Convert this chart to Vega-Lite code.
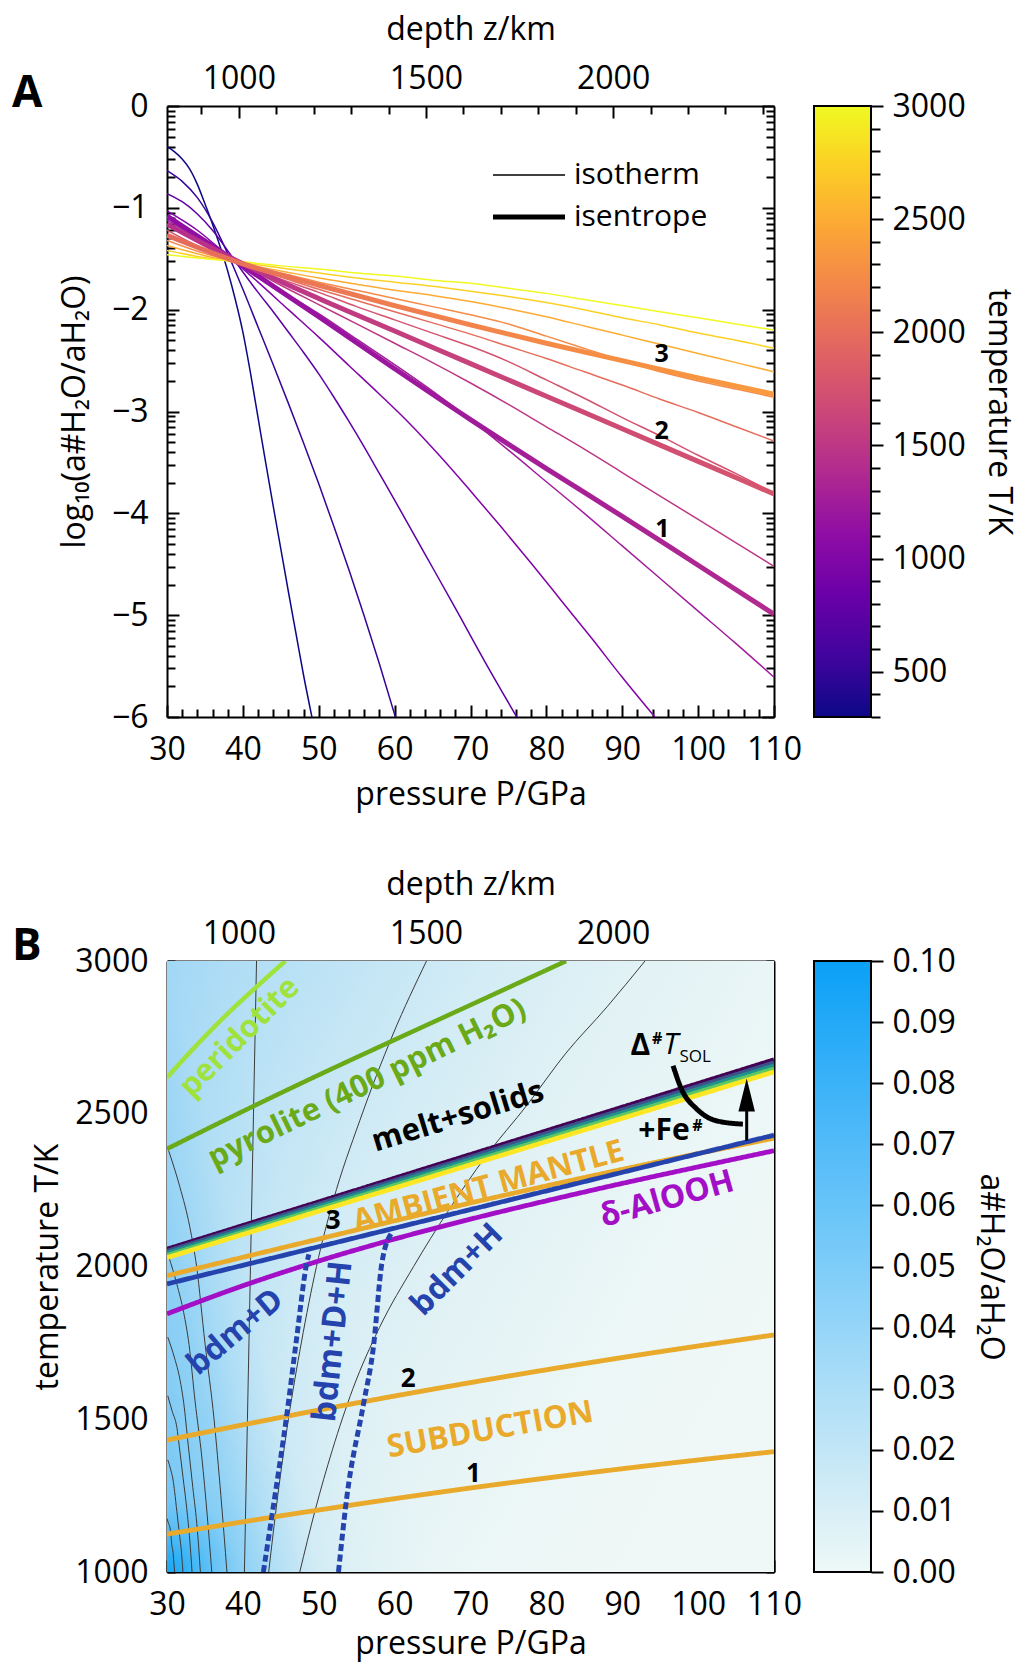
{
  "$schema": "https://vega.github.io/schema/vega-lite/v6.json",
  "padding": {"left": 12, "top": 13, "right": 10, "bottom": 6},
  "background": "white",
  "bounds": "flush",
  "columns": 2,
  "spacing": {"row": 244, "column": 40},
  "config": {
    "font": "Open Sans",
    "view": {"stroke": null},
    "axis": {
      "grid": false, "domain": false,
      "labelFont": "Open Sans", "labelFontSize": 32, "labelColor": "black",
      "titleFont": "Open Sans", "titleFontSize": 32, "titleFontWeight": "normal", "titleColor": "black",
      "tickColor": "black", "tickWidth": 2, "domainColor": "black", "domainWidth": 2,
      "zindex": 1, "labelFlush": false, "labelOverlap": false
    },
    "text": {"font": "Open Sans"}
  },
  "resolve": {"scale": {"color": "independent", "strokeWidth": "independent", "strokeDash": "independent"}, "legend": {"strokeWidth": "independent", "color": "independent"}},
  "concat": [
    {
      "width": 607,
      "height": 611,
      "title": {"text": "A", "anchor": "start", "frame": "group", "fontSize": 44, "fontWeight": "bold", "font": "Open Sans", "color": "black", "dx": -155, "dy": 103, "offset": 0},
      "encoding": {
        "x": {"field": "P", "type": "quantitative", "scale": {"domain": [30, 110], "nice": false, "zero": false}, "axis": null},
        "y": {"field": "v", "type": "quantitative", "scale": {"domain": [-6, 0], "nice": false, "zero": false}, "axis": null}
      },
      "resolve": {"scale": {"x": "independent", "y": "independent"}},
      "layer": [
        {
          "data": {"values": [
            {"kind": "isotherm", "T": 300, "P": [30,31,32,33,34,35,36,37,38,39,40,41,42,43,44,45,46,47,48,49.1], "v": [-0.40,-0.45,-0.52,-0.62,-0.77,-0.96,-1.16,-1.38,-1.62,-1.90,-2.22,-2.62,-3.06,-3.50,-3.93,-4.35,-4.77,-5.18,-5.59,-6.0]},
            {"kind": "isotherm", "T": 500, "P": [30,32,34,36,38,40,42,44,46,48,50,52,54,56,58,60.1], "v": [-0.635,-0.74,-0.90,-1.14,-1.45,-1.80,-2.17,-2.54,-2.92,-3.31,-3.71,-4.13,-4.56,-5.01,-5.48,-6.0]},
            {"kind": "isotherm", "T": 750, "P": [30,32,34,36,38,40,42,44,46,48,50,52,54,56,58,60,64,68,72,76.1], "v": [-0.86,-0.94,-1.06,-1.22,-1.42,-1.63,-1.83,-2.02,-2.22,-2.42,-2.63,-2.86,-3.10,-3.35,-3.61,-3.87,-4.40,-4.93,-5.47,-6.0]},
            {"kind": "isotherm", "T": 1000, "P": [30,34,38,42,46,50,54,58,62,66,70,74,78,82,86,90,94.3], "v": [-1.03,-1.22,-1.47,-1.73,-2.00,-2.27,-2.55,-2.83,-3.12,-3.44,-3.78,-4.13,-4.49,-4.86,-5.23,-5.61,-6.0]},
            {"kind": "isotherm", "T": 1250, "P": [30,35,40,45,50,55,60,65,70,75,80,85,90,95,100,105,110], "v": [-1.12,-1.34,-1.58,-1.81,-2.04,-2.29,-2.54,-2.80,-3.08,-3.38,-3.69,-4.00,-4.32,-4.64,-4.96,-5.28,-5.61]},
            {"kind": "isotherm", "T": 1500, "P": [30,35,40,45,50,55,60,65,70,75,80,85,90,95,100,105,110], "v": [-1.17,-1.37,-1.56,-1.76,-1.95,-2.14,-2.33,-2.52,-2.72,-2.93,-3.15,-3.37,-3.60,-3.83,-4.06,-4.29,-4.52]},
            {"kind": "isotherm", "T": 1750, "P": [30,35,40,45,50,55,60,65,70,75,80,85,90,95,100,105,110], "v": [-1.22,-1.41,-1.56,-1.70,-1.83,-1.97,-2.10,-2.23,-2.36,-2.51,-2.69,-2.87,-3.06,-3.24,-3.43,-3.61,-3.80]},
            {"kind": "isotherm", "T": 2000, "P": [30,35,40,45,50,55,60,65,70,75,80,85,90,95,100,105,110], "v": [-1.27,-1.43,-1.56,-1.68,-1.80,-1.91,-2.02,-2.13,-2.24,-2.36,-2.48,-2.61,-2.74,-2.88,-3.01,-3.15,-3.29]},
            {"kind": "isotherm", "T": 2250, "P": [30,35,40,45,50,55,60,65,70,75,80,85,90,95,100,105,110], "v": [-1.32,-1.45,-1.55,-1.64,-1.73,-1.81,-1.89,-1.97,-2.05,-2.14,-2.26,-2.38,-2.50,-2.61,-2.70,-2.78,-2.86]},
            {"kind": "isotherm", "T": 2500, "P": [30,35,40,45,50,55,60,65,70,75,80,85,90,95,100,105,110], "v": [-1.37,-1.47,-1.55,-1.62,-1.69,-1.75,-1.81,-1.86,-1.92,-1.99,-2.07,-2.16,-2.25,-2.34,-2.43,-2.52,-2.61]},
            {"kind": "isotherm", "T": 2750, "P": [30,35,40,45,50,55,60,65,70,75,80,85,90,95,100,105,110], "v": [-1.42,-1.49,-1.54,-1.59,-1.64,-1.69,-1.73,-1.77,-1.82,-1.87,-1.93,-2.00,-2.08,-2.15,-2.23,-2.30,-2.38]},
            {"kind": "isotherm", "T": 3000, "P": [30,35,40,45,50,55,60,65,70,75,80,85,90,95,100,105,110], "v": [-1.46,-1.50,-1.53,-1.57,-1.60,-1.64,-1.67,-1.71,-1.74,-1.79,-1.84,-1.90,-1.96,-2.02,-2.08,-2.14,-2.20]}
          ]},
          "transform": [{"flatten": ["P", "v"]}],
          "mark": {"type": "line", "interpolate": "monotone", "clip": true},
          "encoding": {
            "x": {"field": "P", "type": "quantitative", "scale": {"domain": [30, 110], "nice": false, "zero": false},
                  "axis": {"orient": "bottom", "values": [30,40,50,60,70,80,90,100,110], "tickSize": -12, "labelPadding": 29, "title": "pressure P/GPa", "titlePadding": 14, "domain": true}},
            "y": {"field": "v", "type": "quantitative", "scale": {"domain": [-6, 0], "nice": false, "zero": false},
                  "axis": {"orient": "left", "values": [0,-1,-2,-3,-4,-5,-6], "tickSize": -12, "labelPadding": 31, "title": "log₁₀(a#H₂O/aH₂O)", "titlePadding": 20, "domain": true}},
            "color": {"field": "T", "type": "quantitative", "scale": {"scheme": "plasma", "domain": [300, 3000]}, "legend": null},
            "detail": {"field": "T", "type": "quantitative"},
            "strokeWidth": {"field": "kind", "type": "ordinal", "scale": {"domain": ["isotherm", "isentrope"], "range": [1.5, 5]},
              "legend": {"orient": "none", "legendX": 347, "legendY": 54, "direction": "vertical", "title": null, "symbolType": "M-3,0H3", "symbolSize": 576, "symbolStrokeColor": "black", "symbolFillColor": "transparent", "labelFont": "Open Sans", "labelFontSize": 30, "labelColor": "black", "labelOffset": 30, "rowPadding": 12, "padding": 0}}
          }
        },
        {
          "data": {"values": [{"P": [30,40,50,60,70,80,90,100,110], "v": [-1.08,-1.57,-2.07,-2.58,-3.08,-3.56,-4.03,-4.51,-4.99]}]},
          "transform": [{"flatten": ["P", "v"]}],
          "mark": {"type": "line", "interpolate": "monotone", "clip": true, "strokeWidth": 5,
            "stroke": {"gradient": "linear", "x1": 0, "y1": 0, "x2": 1, "y2": 0, "stops": [{"offset": 0, "color": "#900da4"}, {"offset": 0.5, "color": "#a01b9a"}, {"offset": 1, "color": "#b22b8f"}]}},
          "encoding": {
            "x": {"field": "P", "type": "quantitative", "scale": {"domain": [30, 110], "nice": false, "zero": false},
                  "axis": {"orient": "bottom", "values": [32,34,36,38,42,44,46,48,52,54,56,58,62,64,66,68,72,74,76,78,82,84,86,88,92,94,96,98,102,104,106,108], "tickSize": -8, "labels": false, "title": null}},
            "y": {"field": "v", "type": "quantitative", "scale": {"domain": [-6, 0], "nice": false, "zero": false},
                  "axis": {"orient": "left", "values": [-0.699,-0.523,-0.398,-0.301,-0.222,-0.155,-0.097,-0.046,-1.699,-1.523,-1.398,-1.301,-1.222,-1.155,-1.097,-1.046,-2.699,-2.523,-2.398,-2.301,-2.222,-2.155,-2.097,-2.046,-3.699,-3.523,-3.398,-3.301,-3.222,-3.155,-3.097,-3.046,-4.699,-4.523,-4.398,-4.301,-4.222,-4.155,-4.097,-4.046,-5.699,-5.523,-5.398,-5.301,-5.222,-5.155,-5.097,-5.046], "tickSize": -8, "labels": false, "title": null}}
          }
        },
        {
          "data": {"values": [{"P": [30,40,50,60,70,80,90,100,110], "v": [-1.16,-1.55,-1.89,-2.21,-2.53,-2.85,-3.17,-3.49,-3.81]}]},
          "transform": [{"flatten": ["P", "v"]}],
          "mark": {"type": "line", "interpolate": "monotone", "clip": true, "strokeWidth": 5,
            "stroke": {"gradient": "linear", "x1": 0, "y1": 0, "x2": 1, "y2": 0, "stops": [{"offset": 0, "color": "#b62e8c"}, {"offset": 0.5, "color": "#c7437b"}, {"offset": 1, "color": "#d6556d"}]}},
          "encoding": {
            "x": {"field": "P", "type": "quantitative", "scale": {"domain": [30, 110], "nice": false, "zero": false}, "axis": null},
            "y": {"field": "v", "type": "quantitative", "scale": {"domain": [-6, 0], "nice": false, "zero": false},
                  "axis": {"orient": "right", "values": [0,-1,-2,-3,-4,-5,-6], "tickSize": -12, "labels": false, "title": null, "domain": true}}
          }
        },
        {
          "data": {"values": [{"P": [30,40,50,60,70,80,90,100,110], "v": [-1.27,-1.55,-1.76,-1.96,-2.15,-2.33,-2.50,-2.67,-2.83]}]},
          "transform": [{"flatten": ["P", "v"]}],
          "mark": {"type": "line", "interpolate": "monotone", "clip": true, "strokeWidth": 5,
            "stroke": {"gradient": "linear", "x1": 0, "y1": 0, "x2": 1, "y2": 0, "stops": [{"offset": 0, "color": "#e46a5e"}, {"offset": 0.5, "color": "#f2844b"}, {"offset": 1, "color": "#fa9a3c"}]}},
          "encoding": {
            "x": {"field": "P", "type": "quantitative", "scale": {"domain": [30, 110], "nice": false, "zero": false}, "axis": null},
            "y": {"field": "v", "type": "quantitative", "scale": {"domain": [-6, 0], "nice": false, "zero": false},
                  "axis": {"orient": "right", "values": [-0.699,-0.523,-0.398,-0.301,-0.222,-0.155,-0.097,-0.046,-1.699,-1.523,-1.398,-1.301,-1.222,-1.155,-1.097,-1.046,-2.699,-2.523,-2.398,-2.301,-2.222,-2.155,-2.097,-2.046,-3.699,-3.523,-3.398,-3.301,-3.222,-3.155,-3.097,-3.046,-4.699,-4.523,-4.398,-4.301,-4.222,-4.155,-4.097,-4.046,-5.699,-5.523,-5.398,-5.301,-5.222,-5.155,-5.097,-5.046], "tickSize": -8, "labels": false, "title": null}}
          }
        },
        {
          "data": {"values": [{"P": 95.2, "v": -2.44, "lab": "3"}, {"P": 95.2, "v": -3.19, "lab": "2"}, {"P": 95.3, "v": -4.15, "lab": "1"}]},
          "mark": {"type": "text", "fontSize": 25, "fontWeight": "bold", "font": "Open Sans", "color": "black"},
          "encoding": {"text": {"field": "lab"}}
        },
        {
          "data": {"values": [{"z": 808}, {"z": 2430}]},
          "mark": {"type": "point", "opacity": 0},
          "encoding": {
            "x": {"field": "z", "type": "quantitative", "scale": {"domain": [808, 2430], "nice": false, "zero": false},
                  "axis": {"orient": "top", "values": [1000, 1500, 2000], "format": "d", "tickSize": -12, "labelPadding": 23, "title": "depth z/km", "titlePadding": 16, "domain": true}},
            "y": {"datum": -3, "type": "quantitative", "scale": {"domain": [-6, 0], "nice": false, "zero": false}, "axis": null}
          }
        },
        {
          "data": {"values": [{"z": 808}, {"z": 2430}]},
          "mark": {"type": "point", "opacity": 0},
          "encoding": {
            "x": {"field": "z", "type": "quantitative", "scale": {"domain": [808, 2430], "nice": false, "zero": false},
                  "axis": {"orient": "top", "values": [900,1100,1200,1300,1400,1600,1700,1800,1900,2100,2200,2300,2400], "tickSize": -8, "labels": false, "title": null}},
            "y": {"datum": -3, "type": "quantitative", "scale": {"domain": [-6, 0], "nice": false, "zero": false}, "axis": null}
          }
        }
      ]
    },
    {
      "width": 57,
      "height": 611,
      "data": {"values": [{"lo": 300, "hi": 3000}]},
      "resolve": {"scale": {"y": "independent"}},
      "layer": [
        {
          "mark": {"type": "rect", "stroke": "black", "strokeWidth": 2,
            "fill": {"gradient": "linear", "x1": 0, "y1": 1, "x2": 0, "y2": 0, "stops": [
              {"offset": 0, "color": "#0d0887"}, {"offset": 0.1, "color": "#41049d"}, {"offset": 0.2, "color": "#6a00a8"}, {"offset": 0.3, "color": "#8f0da4"}, {"offset": 0.4, "color": "#b12a90"}, {"offset": 0.5, "color": "#cc4778"}, {"offset": 0.6, "color": "#e16462"}, {"offset": 0.7, "color": "#f2844b"}, {"offset": 0.8, "color": "#fca636"}, {"offset": 0.9, "color": "#fcce25"}, {"offset": 1, "color": "#f0f921"}]}},
          "encoding": {
            "x": {"datum": 0, "type": "quantitative", "scale": {"domain": [0, 1], "nice": false}, "axis": null},
            "x2": {"datum": 1},
            "y": {"field": "lo", "type": "quantitative", "scale": {"domain": [300, 3000], "nice": false, "zero": false},
                  "axis": {"orient": "right", "values": [500, 1000, 1500, 2000, 2500, 3000], "format": "d", "tickSize": 12, "labelPadding": 9, "title": "temperature T/K", "titlePadding": 16}},
            "y2": {"field": "hi"}
          }
        },
        {
          "mark": {"type": "rule", "opacity": 0},
          "encoding": {
            "y": {"field": "lo", "type": "quantitative", "scale": {"domain": [300, 3000], "nice": false, "zero": false},
                  "axis": {"orient": "right", "values": [300,400,600,700,800,900,1100,1200,1300,1400,1600,1700,1800,1900,2100,2200,2300,2400,2600,2700,2800,2900], "tickSize": 9, "labels": false, "title": null}}
          }
        }
      ]
    },
    {
      "width": 607,
      "height": 611,
      "title": {"text": "B", "anchor": "start", "frame": "group", "fontSize": 44, "fontWeight": "bold", "font": "Open Sans", "color": "black", "dx": -155, "dy": 101, "offset": 0},
      "encoding": {
        "x": {"field": "P", "type": "quantitative", "scale": {"domain": [30, 110], "nice": false, "zero": false}, "axis": null},
        "y": {"field": "T", "type": "quantitative", "scale": {"domain": [1000, 3000], "nice": false, "zero": false}, "axis": null}
      },
      "resolve": {"scale": {"x": "independent", "y": "independent"}},
      "layer": [
        {
          "data": {"values": [{"P": 30, "P2": 110, "T": 1000, "T2": 3000}]},
          "mark": {"type": "rect", "fill": {"gradient": "linear", "x1": 0, "y1": 0, "x2": 1, "y2": 0.56, "stops": [
            {"offset": 0, "color": "#a8daf5"}, {"offset": 0.2, "color": "#bde3f5"}, {"offset": 0.4, "color": "#d3ecf5"}, {"offset": 0.6, "color": "#e2f2f5"}, {"offset": 0.8, "color": "#ebf6f6"}, {"offset": 1, "color": "#eff8f6"}]}},
          "encoding": {
            "x": {"field": "P", "type": "quantitative", "scale": {"domain": [30, 110], "nice": false, "zero": false},
                  "axis": {"orient": "bottom", "values": [30,40,50,60,70,80,90,100,110], "tickSize": -12, "labelPadding": 29, "title": "pressure P/GPa", "titlePadding": 8, "domain": true}},
            "x2": {"field": "P2"},
            "y": {"field": "T", "type": "quantitative", "scale": {"domain": [1000, 3000], "nice": false, "zero": false},
                  "axis": {"orient": "left", "values": [1000, 1500, 2000, 2500, 3000], "format": "d", "tickSize": -8, "labelPadding": 27, "title": "temperature T/K", "titlePadding": 10, "domain": true}},
            "y2": {"field": "T2"}
          }
        },
        {
          "data": {"values": [{"P": 30, "P2": 70, "T": 1000, "T2": 3000}]},
          "mark": {"type": "rect", "clip": true, "fill": {"gradient": "linear", "x1": 0, "y1": 1, "x2": 1, "y2": 0.5, "stops": [
            {"offset": 0, "color": "rgba(111,196,245,0.9)"}, {"offset": 0.1, "color": "rgba(111,196,245,0.8)"}, {"offset": 0.2, "color": "rgba(111,196,245,0.64)"}, {"offset": 0.3, "color": "rgba(111,196,245,0.35)"}, {"offset": 0.4, "color": "rgba(111,196,245,0.12)"}, {"offset": 0.55, "color": "rgba(111,196,245,0.03)"}, {"offset": 0.7, "color": "rgba(111,196,245,0)"}, {"offset": 1, "color": "rgba(111,196,245,0)"}]}},
          "encoding": {
            "x": {"field": "P", "type": "quantitative", "scale": {"domain": [30, 110], "nice": false, "zero": false},
                  "axis": {"orient": "bottom", "values": [32,34,36,38,42,44,46,48,52,54,56,58,62,64,66,68,72,74,76,78,82,84,86,88,92,94,96,98,102,104,106,108], "tickSize": -8, "labels": false, "title": null}},
            "x2": {"field": "P2"},
            "y": {"field": "T", "type": "quantitative", "scale": {"domain": [1000, 3000], "nice": false, "zero": false},
                  "axis": {"orient": "left", "values": [1100,1200,1300,1400,1600,1700,1800,1900,2100,2200,2300,2400,2600,2700,2800,2900], "tickSize": -8, "labels": false, "title": null}},
            "y2": {"field": "T2"}
          }
        },
        {
          "data": {"values": [{"P": 30, "P2": 110, "T": 1000, "T2": 3000}]},
          "mark": {"type": "rect", "fill": {"gradient": "radial", "x1": 0, "y1": 1, "r1": 0, "x2": 0, "y2": 1, "r2": 0.3, "stops": [
            {"offset": 0, "color": "rgba(20,165,246,1)"}, {"offset": 0.1, "color": "rgba(35,172,246,0.85)"}, {"offset": 0.25, "color": "rgba(50,178,246,0.45)"}, {"offset": 0.41, "color": "rgba(60,182,246,0.1)"}, {"offset": 0.6, "color": "rgba(60,182,246,0.02)"}, {"offset": 1, "color": "rgba(60,182,246,0)"}]}},
          "encoding": {"x2": {"field": "P2"}, "y2": {"field": "T2"}}
        },
        {
          "data": {"values": [
            {"id": "c1", "P": [40.2,40.6,41.0,41.4,41.8], "T": [1000,1500,2000,2500,3000]},
            {"id": "c2", "P": [30.2,31.7,33.0,33.9,35.0,36.2,37.1,37.9], "T": [2380,2260,2130,2000,1750,1500,1250,1000]},
            {"id": "c3", "P": [30.2,31.3,32.2,32.9,33.7,34.6,35.3,35.9], "T": [2035,1942,1849,1745,1559,1373,1186,1000]},
            {"id": "c4", "P": [30.1,31.0,31.7,32.2,32.8,33.4,34.0,34.4], "T": [1769,1700,1631,1554,1415,1277,1138,1000]},
            {"id": "c5", "P": [30.1,30.7,31.3,31.6,32.1,32.6,33.0,33.3], "T": [1577,1525,1473,1415,1312,1208,1104,1000]},
            {"id": "c6", "P": [30.1,30.5,30.8,31.0,31.3,31.6,31.9,32.1], "T": [1367,1334,1301,1264,1198,1132,1066,1000]},
            {"id": "c7", "P": [30.0,30.2,30.4,30.5,30.6,30.8,30.9,31.0], "T": [1175,1159,1144,1126,1095,1063,1032,1000]},
            {"id": "d1", "P": [47.5,49.5,51.8,54.5,58,62.5,67,72,77.5,82.5,88,93], "T": [1000,1200,1400,1600,1800,2000,2180,2360,2530,2696,2850,3000]},
            {"id": "d2", "P": [43.4,44.6,46.0,47.7,49.7,51.9,55.4,59.8,64.2], "T": [1000,1250,1500,1750,2000,2215,2477,2761,3000]}
          ]},
          "transform": [{"flatten": ["P", "T"]}],
          "mark": {"type": "line", "interpolate": "monotone", "clip": true, "color": "#3a3a3a", "strokeWidth": 1},
          "encoding": {
            "detail": {"field": "id"},
            "y": {"field": "T", "type": "quantitative", "scale": {"domain": [1000, 3000], "nice": false, "zero": false},
                  "axis": {"orient": "right", "values": [1000,1100,1200,1300,1400,1500,1600,1700,1800,1900,2000,2100,2200,2300,2400,2500,2600,2700,2800,2900,3000], "tickSize": -8, "labels": false, "title": null, "domain": true}}
          }
        },
        {
          "data": {"values": [
            {"s": "peridotite", "P": [30,34,38,42,45.6], "T": [2619,2727,2828,2920,3000]},
            {"s": "pyrolite", "P": [30,40,50,60,70,82.6], "T": [2385,2508,2627,2742,2856,3000]},
            {"s": "sol1", "P": [30,70,110], "T": [2057,2367,2677]},
            {"s": "sol2", "P": [30,70,110], "T": [2050,2358.5,2667]},
            {"s": "sol3", "P": [30,70,110], "T": [2043,2350,2657]},
            {"s": "sol4", "P": [30,70,110], "T": [2036,2341.5,2647]},
            {"s": "sol5", "P": [30,70,110], "T": [2029,2333,2637]},
            {"s": "ambient", "P": [30,50,70,90,110], "T": [1970,2090,2208,2318,2420]},
            {"s": "fe", "P": [30,70,110], "T": [1943,2186.5,2430]},
            {"s": "alooh", "P": [30,40,50,60,70,80,90,100,110], "T": [1845,1937,2018,2090,2155,2215,2272,2326,2379]},
            {"s": "sub2", "P": [30,50,70,90,110], "T": [1432,1530,1620,1702,1776]},
            {"s": "sub1", "P": [30,50,70,90,110], "T": [1124,1203,1275,1338,1394]},
            {"s": "dash1", "P": [42.7,43.8,45.8,47.1,48.4,48.7], "T": [1000,1180,1517,1768,2008,2040]},
            {"s": "dash2", "P": [52.6,53.7,55.9,57.2,58.3,59.6], "T": [1000,1245,1550,1735,2008,2110]},
            {"s": "arc", "P": [96.7,97.8,99.8,102.4,105.9], "T": [2657,2581,2516,2477,2466]}
          ]},
          "transform": [{"flatten": ["P", "T"]}],
          "mark": {"type": "line", "interpolate": "monotone", "clip": true, "strokeCap": "butt"},
          "encoding": {
            "color": {"field": "s", "type": "nominal", "legend": null, "scale": {
              "domain": ["peridotite","pyrolite","sol1","sol2","sol3","sol4","sol5","ambient","fe","alooh","sub1","sub2","dash1","dash2","arc"],
              "range": ["#9fe23c","#6aaa19","#440154","#3b528b","#21918c","#5ec962","#fde725","#e9a92b","#2443ad","#a20fc6","#e9a92b","#e9a92b","#2443ad","#2443ad","#000000"]}},
            "strokeWidth": {"field": "s", "type": "nominal", "legend": null, "scale": {
              "domain": ["peridotite","pyrolite","sol1","sol2","sol3","sol4","sol5","ambient","fe","alooh","sub1","sub2","dash1","dash2","arc"],
              "range": [4.5,5,2.4,2.4,2.4,2.4,2.6,2.6,5,5,2.6,2.6,5.5,5.5,2]}},
            "strokeDash": {"field": "s", "type": "nominal", "legend": null, "scale": {
              "domain": ["peridotite","pyrolite","sol1","sol2","sol3","sol4","sol5","ambient","fe","alooh","sub1","sub2","dash1","dash2","arc"],
              "range": [[1,0],[1,0],[1,0],[1,0],[1,0],[1,0],[1,0],[1,0],[1,0],[1,0],[1,0],[1,0],[7,3.5],[7,3.5],[1,0]]}}
          }
        },
        {
          "data": {"values": [{"P": 106.4, "T": 2412, "T2": 2548}]},
          "mark": {"type": "rule", "color": "black", "strokeWidth": 3},
          "encoding": {"y2": {"field": "T2"}}
        },
        {
          "data": {"values": [{"P": 106.4, "T": 2561}]},
          "mark": {"type": "point", "shape": "M0,-1L0.5,1L-0.5,1Z", "filled": true, "size": 1089, "color": "black", "opacity": 1}
        },
        {
          "data": {"values": [{"P": 39.6, "T": 2750, "lab": "peridotite"}]},
          "mark": {"type": "text", "angle": -45, "fontSize": 31, "fontWeight": "bold", "color": "#9fe23c", "align": "center", "baseline": "middle"},
          "encoding": {"text": {"field": "lab"}}
        },
        {
          "data": {"values": [{"P": 56.4, "T": 2597, "lab": "pyrolite (400 ppm H₂O)"}]},
          "mark": {"type": "text", "angle": -26, "fontSize": 31, "fontWeight": "bold", "color": "#6aaa19", "align": "center", "baseline": "middle"},
          "encoding": {"text": {"field": "lab"}}
        },
        {
          "data": {"values": [{"P": 68.35, "T": 2489, "lab": "melt+solids"}]},
          "mark": {"type": "text", "angle": -17, "fontSize": 31, "fontWeight": "bold", "color": "black", "align": "center", "baseline": "middle"},
          "encoding": {"text": {"field": "lab"}}
        },
        {
          "data": {"values": [{"P": 72.4, "T": 2260, "lab": "AMBIENT MANTLE"}]},
          "mark": {"type": "text", "angle": -15, "fontSize": 31, "fontWeight": "bold", "color": "#e9a92b", "align": "center", "baseline": "middle"},
          "encoding": {"text": {"field": "lab"}}
        },
        {
          "data": {"values": [{"P": 95.9, "T": 2221, "lab": "δ-AlOOH"}]},
          "mark": {"type": "text", "angle": -15.5, "fontSize": 32, "fontWeight": "bold", "color": "#a20fc6", "align": "center", "baseline": "middle"},
          "encoding": {"text": {"field": "lab"}}
        },
        {
          "data": {"values": [{"P": 68.2, "T": 1990, "lab": "bdm+H"}]},
          "mark": {"type": "text", "angle": -45, "fontSize": 32, "fontWeight": "bold", "color": "#2443ad", "align": "center", "baseline": "middle"},
          "encoding": {"text": {"field": "lab"}}
        },
        {
          "data": {"values": [{"P": 51.9, "T": 1755, "lab": "bdm+D+H"}]},
          "mark": {"type": "text", "angle": -84, "fontSize": 33, "fontWeight": "bold", "color": "#2443ad", "align": "center", "baseline": "middle"},
          "encoding": {"text": {"field": "lab"}}
        },
        {
          "data": {"values": [{"P": 39.0, "T": 1786, "lab": "bdm+D"}]},
          "mark": {"type": "text", "angle": -40, "fontSize": 32, "fontWeight": "bold", "color": "#2443ad", "align": "center", "baseline": "middle"},
          "encoding": {"text": {"field": "lab"}}
        },
        {
          "data": {"values": [{"P": 72.6, "T": 1463, "lab": "SUBDUCTION"}]},
          "mark": {"type": "text", "angle": -10, "fontSize": 31.5, "fontWeight": "bold", "color": "#e9a92b", "align": "center", "baseline": "middle"},
          "encoding": {"text": {"field": "lab"}}
        },
        {
          "data": {"values": [{"P": 51.9, "T": 2150, "lab": "3"}, {"P": 61.8, "T": 1632, "lab": "2"}, {"P": 70.4, "T": 1321, "lab": "1"}]},
          "mark": {"type": "text", "fontSize": 26, "fontWeight": "bold", "color": "black", "align": "center", "baseline": "middle"},
          "encoding": {"text": {"field": "lab"}}
        },
        {
          "data": {"values": [{"P": 92.4, "T": 2722, "lab": "Δ"}, {"P": 95.5, "T": 2442, "lab": "+Fe"}]},
          "mark": {"type": "text", "fontSize": 30, "fontWeight": "bold", "color": "black", "align": "center", "baseline": "middle"},
          "encoding": {"text": {"field": "lab"}}
        },
        {
          "data": {"values": [{"P": 94.6, "T": 2745, "lab": "#"}, {"P": 99.9, "T": 2461, "lab": "#"}]},
          "mark": {"type": "text", "fontSize": 16, "fontWeight": "bold", "color": "black", "align": "center", "baseline": "middle"},
          "encoding": {"text": {"field": "lab"}}
        },
        {
          "data": {"values": [{"P": 96.4, "T": 2725, "lab": "T"}]},
          "mark": {"type": "text", "fontSize": 30, "fontStyle": "italic", "color": "black", "align": "center", "baseline": "middle"},
          "encoding": {"text": {"field": "lab"}}
        },
        {
          "data": {"values": [{"P": 99.6, "T": 2687, "lab": "SOL"}]},
          "mark": {"type": "text", "fontSize": 17, "color": "black", "align": "center", "baseline": "middle"},
          "encoding": {"text": {"field": "lab"}}
        },
        {
          "data": {"values": [{"z": 808}, {"z": 2430}]},
          "mark": {"type": "point", "opacity": 0},
          "encoding": {
            "x": {"field": "z", "type": "quantitative", "scale": {"domain": [808, 2430], "nice": false, "zero": false},
                  "axis": {"orient": "top", "values": [1000, 1500, 2000], "format": "d", "tickSize": -12, "labelPadding": 23, "title": "depth z/km", "titlePadding": 16, "domain": true}},
            "y": {"datum": 2000, "type": "quantitative", "scale": {"domain": [1000, 3000], "nice": false, "zero": false}, "axis": null}
          }
        },
        {
          "data": {"values": [{"z": 808}, {"z": 2430}]},
          "mark": {"type": "point", "opacity": 0},
          "encoding": {
            "x": {"field": "z", "type": "quantitative", "scale": {"domain": [808, 2430], "nice": false, "zero": false},
                  "axis": {"orient": "top", "values": [900,1100,1200,1300,1400,1600,1700,1800,1900,2100,2200,2300,2400], "tickSize": -8, "labels": false, "title": null}},
            "y": {"datum": 2000, "type": "quantitative", "scale": {"domain": [1000, 3000], "nice": false, "zero": false}, "axis": null}
          }
        }
      ]
    },
    {
      "width": 57,
      "height": 611,
      "data": {"values": [{"lo": 0, "hi": 0.1}]},
      "layer": [
        {
          "mark": {"type": "rect", "stroke": "black", "strokeWidth": 2,
            "fill": {"gradient": "linear", "x1": 0, "y1": 1, "x2": 0, "y2": 0, "stops": [
              {"offset": 0, "color": "#eef8f7"}, {"offset": 0.1, "color": "#d8eff6"}, {"offset": 0.2, "color": "#c2e6f6"}, {"offset": 0.3, "color": "#acdef7"}, {"offset": 0.4, "color": "#95d5f8"}, {"offset": 0.5, "color": "#7ecdf8"}, {"offset": 0.6, "color": "#67c4f8"}, {"offset": 0.7, "color": "#52bbf8"}, {"offset": 0.8, "color": "#3bb2f8"}, {"offset": 0.9, "color": "#23a9f7"}, {"offset": 1, "color": "#0aa0f6"}]}},
          "encoding": {
            "x": {"datum": 0, "type": "quantitative", "scale": {"domain": [0, 1], "nice": false}, "axis": null},
            "x2": {"datum": 1},
            "y": {"field": "lo", "type": "quantitative", "scale": {"domain": [0, 0.1], "nice": false, "zero": false},
                  "axis": {"orient": "right", "values": [0,0.01,0.02,0.03,0.04,0.05,0.06,0.07,0.08,0.09,0.1], "format": ".2f", "tickSize": 12, "labelPadding": 9, "title": "a#H₂O/aH₂O", "titlePadding": 18}},
            "y2": {"field": "hi"}
          }
        }
      ]
    }
  ]
}
